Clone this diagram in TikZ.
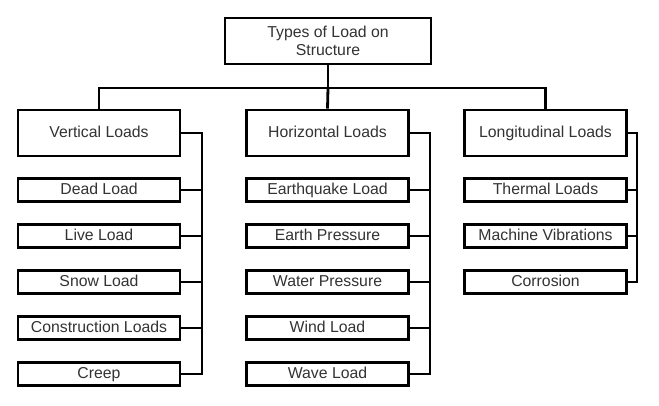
\documentclass[tikz,border=0pt]{standalone}
\usepackage{fontspec}
\setmainfont{Liberation Sans}
\usepackage{tikz}
\usepackage{xcolor}
\usetikzlibrary{calc}

\begin{document}
\begin{tikzpicture}[x=1pt, y=-1pt, line width=2.8pt,
  every node/.style={font=\fontsize{15.8}{18.5}\selectfont, text=black!80},
  headbox/.style={draw=black, fill=white, minimum width=162pt, minimum height=46pt, inner sep=0pt, text height=11.5pt, text depth=3pt},
  itembox/.style={draw=black, fill=white, minimum width=162pt, minimum height=23pt, inner sep=0pt, text height=11.5pt, text depth=3pt}]
\useasboundingbox (0,0) rectangle (659,406);
% Root
\node[draw=black, fill=white, minimum width=206pt, minimum height=46pt, inner sep=0pt, align=center] (root) at (328,41) {Types of Load on\\Structure};
% Vertical loads
\node[headbox] (vert) at (99,133) {Vertical Loads};
\node[itembox] (vert1) at (99,190) {Dead Load};
\node[itembox] (vert2) at (99,236) {Live Load};
\node[itembox] (vert3) at (99,282) {Snow Load};
\node[itembox] (vert4) at (99,328) {Construction Loads};
\node[itembox] (vert5) at (99,374) {Creep};
% Horizontal loads
\node[headbox] (horiz) at (327.5,133) {Horizontal Loads};
\node[itembox] (horiz1) at (327.5,190) {Earthquake Load};
\node[itembox] (horiz2) at (327.5,236) {Earth Pressure};
\node[itembox] (horiz3) at (327.5,282) {Water Pressure};
\node[itembox] (horiz4) at (327.5,328) {Wind Load};
\node[itembox] (horiz5) at (327.5,374) {Wave Load};
% Longitudinal loads
\node[headbox] (long) at (545.5,133) {Longitudinal Loads};
\node[itembox] (long1) at (545.5,190) {Thermal Loads};
\node[itembox] (long2) at (545.5,236) {Machine Vibrations};
\node[itembox] (long3) at (545.5,282) {Corrosion};
% Root to the three groups
\coordinate (rootbus) at (328,88);
\draw (root.south) -- (rootbus);
\draw (vert.north) |- (rootbus) -| (long.north);
\draw (rootbus) -- (horiz.north);
% Side buses
\coordinate (vertbus) at (202,133);
\coordinate (horizbus) at (430,133);
\coordinate (longbus) at (637,133);
\draw (vert.east) -- (vertbus) |- (vert5.east);
\draw (vert1.east) -- (vert1.east -| vertbus);
\draw (vert2.east) -- (vert2.east -| vertbus);
\draw (vert3.east) -- (vert3.east -| vertbus);
\draw (vert4.east) -- (vert4.east -| vertbus);
\draw (horiz.east) -- (horizbus) |- (horiz5.east);
\draw (horiz1.east) -- (horiz1.east -| horizbus);
\draw (horiz2.east) -- (horiz2.east -| horizbus);
\draw (horiz3.east) -- (horiz3.east -| horizbus);
\draw (horiz4.east) -- (horiz4.east -| horizbus);
\draw (long.east) -- (longbus) |- (long3.east);
\draw (long1.east) -- (long1.east -| longbus);
\draw (long2.east) -- (long2.east -| longbus);
\end{tikzpicture}
\end{document}
